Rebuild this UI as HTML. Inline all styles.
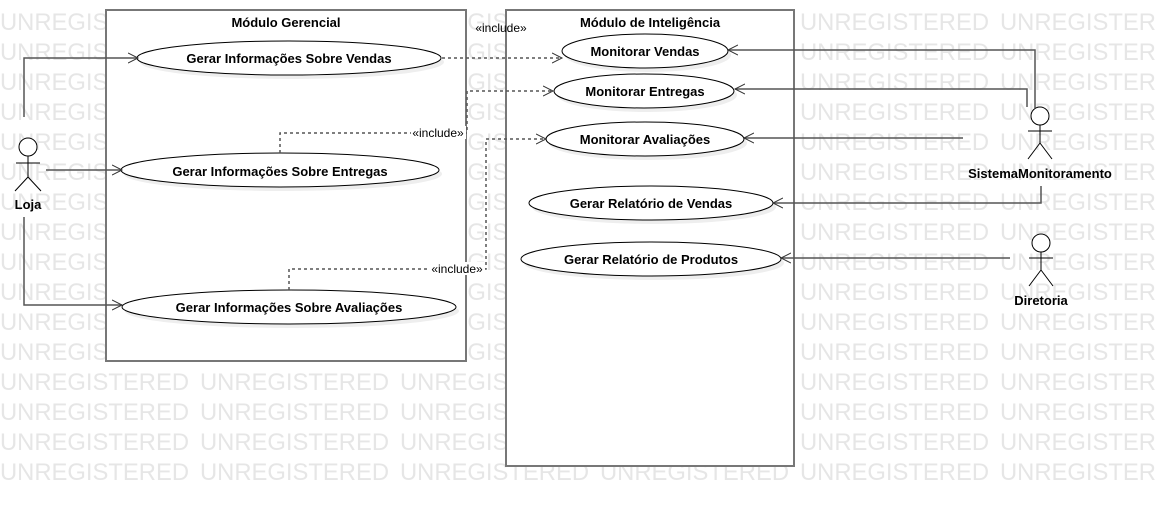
<!DOCTYPE html>
<html><head><meta charset="utf-8"><style>html,body{margin:0;padding:0;background:#fff}svg{display:block}</style></head><body>
<svg width="1156" height="506" viewBox="0 0 1156 506" xmlns="http://www.w3.org/2000/svg" font-family="Liberation Sans, sans-serif">
<defs>
<marker id="a" markerWidth="12" markerHeight="12" refX="10" refY="6" orient="auto" markerUnits="userSpaceOnUse"><path d="M0,1 L10,6 L0,11" fill="none" stroke="#333" stroke-width="1"/></marker>
<text id="w" font-size="24" textLength="189" lengthAdjust="spacingAndGlyphs">UNREGISTERED</text>
<g id="r"><use href="#w" x="0"/><use href="#w" x="200"/><use href="#w" x="400"/><use href="#w" x="600"/><use href="#w" x="800"/><use href="#w" x="1000"/></g>
</defs>
<g fill="#e6e6e6">
<use href="#r" y="30"/><use href="#r" y="60"/><use href="#r" y="90"/><use href="#r" y="120"/>
<use href="#r" y="150"/><use href="#r" y="180"/><use href="#r" y="210"/><use href="#r" y="240"/>
<use href="#r" y="270"/><use href="#r" y="300"/><use href="#r" y="330"/><use href="#r" y="360"/>
<use href="#r" y="390"/><use href="#r" y="420"/><use href="#r" y="450"/><use href="#r" y="480"/>
</g>
<rect x="106" y="10" width="360" height="351" fill="#fff" stroke="#777" stroke-width="2"/>
<rect x="506" y="10" width="288" height="456" fill="#fff" stroke="#777" stroke-width="2"/>
<g font-size="13" font-weight="bold" text-anchor="middle" fill="#000">
<text x="286" y="27">Módulo Gerencial</text>
<text x="650" y="27">Módulo de Inteligência</text>
</g>
<g fill="#eee"><ellipse cx="292" cy="62" rx="152" ry="17"/><ellipse cx="283" cy="174" rx="159" ry="17"/><ellipse cx="292" cy="311" rx="167" ry="17"/><ellipse cx="648" cy="55" rx="83" ry="17"/><ellipse cx="647" cy="95" rx="90" ry="17"/><ellipse cx="648" cy="143" rx="99" ry="17"/><ellipse cx="654" cy="207" rx="122" ry="17"/><ellipse cx="654" cy="263" rx="130" ry="17"/></g>
<g fill="#fff" stroke="#000" stroke-width="1"><ellipse cx="289" cy="58" rx="152" ry="17"/><ellipse cx="280" cy="170" rx="159" ry="17"/><ellipse cx="289" cy="307" rx="167" ry="17"/><ellipse cx="645" cy="51" rx="83" ry="17"/><ellipse cx="644" cy="91" rx="90" ry="17"/><ellipse cx="645" cy="139" rx="99" ry="17"/><ellipse cx="651" cy="203" rx="122" ry="17"/><ellipse cx="651" cy="259" rx="130" ry="17"/></g>
<g font-size="13" font-weight="bold" text-anchor="middle" fill="#000">
<text x="289" y="63">Gerar Informações Sobre Vendas</text>
<text x="280" y="176">Gerar Informações Sobre Entregas</text>
<text x="289" y="312">Gerar Informações Sobre Avaliações</text>
<text x="645" y="56">Monitorar Vendas</text>
<text x="645" y="96">Monitorar Entregas</text>
<text x="645" y="144">Monitorar Avaliações</text>
<text x="651" y="208">Gerar Relatório de Vendas</text>
<text x="651" y="264">Gerar Relatório de Produtos</text>
<text x="28" y="209">Loja</text>
<text x="1040" y="178">SistemaMonitoramento</text>
<text x="1041" y="305">Diretoria</text>
</g>
<g fill="none" stroke="#555" stroke-width="1.5">
<path d="M24,117 V58 H138" marker-end="url(#a)"/>
<path d="M46,170 H122" marker-end="url(#a)"/>
<path d="M24,217 V305 H122" marker-end="url(#a)"/>
<path d="M1035,108 V50 H728" marker-end="url(#a)"/>
<path d="M1027,107 V89 H735" marker-end="url(#a)"/>
<path d="M963,138 H744" marker-end="url(#a)"/>
<path d="M1041,186 V203 H773" marker-end="url(#a)"/>
<path d="M1010,258 H781" marker-end="url(#a)"/>
</g>
<g fill="none" stroke="#555" stroke-width="1.5" stroke-dasharray="3,3">
<path d="M442,58 H562" marker-end="url(#a)"/>
<path d="M280,153 V133 H467 V91 H553" marker-end="url(#a)"/>
<path d="M289,290 V269 H486 V139 H546" marker-end="url(#a)"/>
</g>
<g fill="none" stroke="#000" stroke-width="1">
<circle cx="28" cy="147" r="9" fill="#fff"/><path d="M28,156 V177 M16,163 H40 M28,177 L15,191 M28,177 L41,191"/>
<circle cx="1040" cy="116" r="9" fill="#fff"/><path d="M1040,125 V143 M1028,131 H1052 M1040,143 L1028,159 M1040,143 L1052,159"/>
<circle cx="1041" cy="243" r="9" fill="#fff"/><path d="M1041,252 V270 M1029,258 H1053 M1041,270 L1029,286 M1041,270 L1053,286"/>
</g>
<g font-size="12" fill="#000" text-anchor="middle">
<rect x="411" y="126" width="55" height="13" fill="#fff"/>
<text x="438" y="137">«include»</text>
<rect x="430" y="262" width="55" height="13" fill="#fff"/>
<text x="457" y="273">«include»</text>
<text x="501" y="32">«include»</text>
</g>
</svg>
</body></html>
